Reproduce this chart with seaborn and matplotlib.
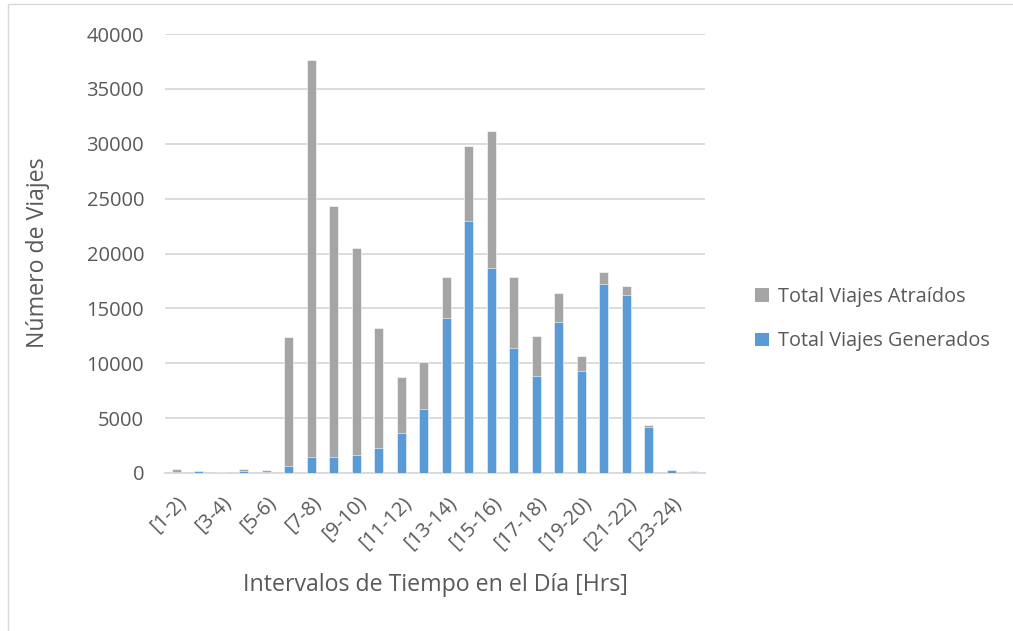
import matplotlib
matplotlib.use("Agg")
import matplotlib.pyplot as plt
import seaborn as sns
import pandas as pd
from matplotlib.patches import Rectangle, Patch

# Hourly intervals of the day
intervalos = ["[1-2)", "[2-3)", "[3-4)", "[4-5)", "[5-6)", "[6-7)", "[7-8)", "[8-9)",
              "[9-10)", "[10-11)", "[11-12)", "[12-13)", "[13-14)", "[14-15)", "[15-16)",
              "[16-17)", "[17-18)", "[18-19)", "[19-20)", "[20-21)", "[21-22)", "[22-23)",
              "[23-24)", "[24-1)"]

viajes_generados = [100, 150, 30, 150, 50, 600, 1500, 1500, 1650, 2300, 3600, 5800,
                    14150, 22950, 18700, 11350, 8800, 13750, 9300, 17200, 16250, 4150,
                    250, 120]
viajes_atraidos = [250, 30, 20, 220, 230, 11800, 36100, 22800, 18850, 10900, 5150, 4350,
                   3750, 6850, 12450, 6550, 3650, 2650, 1350, 1100, 800, 250,
                   50, 20]

y_ticks = [0, 5000, 10000, 15000, 20000, 25000, 30000, 35000, 40000]

AZUL = "#5B9BD5"
GRIS = "#A5A5A5"
TEXTO = "#595959"
REJILLA = "#D9D9D9"

df = pd.DataFrame({
    "intervalo": intervalos,
    "generados": viajes_generados,
    "total": [g + a for g, a in zip(viajes_generados, viajes_atraidos)],
})

sns.set_theme(style="white")
plt.rcParams["font.family"] = ["Open Sans", "DejaVu Sans"]

fig = plt.figure(figsize=(10.13, 6.31), dpi=100)
ax = fig.add_axes([165 / 1013, 1 - 473 / 631, 540 / 1013, (473 - 34) / 631])

# Stacked bars: the grey total behind, the blue generated share in front
sns.barplot(data=df, x="intervalo", y="total", color=GRIS, width=0.4,
            saturation=1, edgecolor="white", linewidth=0.4, ax=ax, zorder=3)
sns.barplot(data=df, x="intervalo", y="generados", color=AZUL, width=0.4,
            saturation=1, edgecolor="white", linewidth=0.4, ax=ax, zorder=4)

ax.set_ylim(0, 40000)
ax.set_xlim(-0.5, len(intervalos) - 0.5)
ax.set_yticks(y_ticks)
ax.set_yticklabels([str(v) for v in y_ticks], fontsize=14.5, color=TEXTO)
ax.yaxis.grid(True, color=REJILLA, linewidth=1.3, zorder=0)
ax.set_axisbelow(True)

ax.set_xticks(range(0, len(intervalos), 2))
ax.set_xticklabels(intervalos[::2], rotation=45, ha="right", rotation_mode="anchor",
                   fontsize=14.5, color=TEXTO)
ax.tick_params(axis="both", length=0)
ax.tick_params(axis="x", pad=14)
ax.tick_params(axis="y", pad=15)

for side in ["top", "right", "left"]:
    ax.spines[side].set_visible(False)
ax.spines["bottom"].set_color(REJILLA)
ax.spines["bottom"].set_linewidth(1.3)

ax.set_xlabel("")
ax.set_ylabel("")
fig.text(435 / 1013, 1 - 585 / 631, "Intervalos de Tiempo en el Día [Hrs]",
         ha="center", va="center", fontsize=16.7, color=TEXTO)
fig.text(38 / 1013, 1 - 253 / 631, "Número de Viajes", rotation=90,
         ha="center", va="center", fontsize=16.7, color=TEXTO)

handles = [Patch(facecolor=GRIS, edgecolor="none", label="Total Viajes Atraídos"),
           Patch(facecolor=AZUL, edgecolor="none", label="Total Viajes Generados")]
fig.legend(handles=handles, loc="center left", bbox_to_anchor=(737 / 1013, 1 - 319 / 631),
           frameon=False, fontsize=14.3, labelcolor=TEXTO, handlelength=0.7,
           handleheight=0.7, handletextpad=0.45, labelspacing=1.25)

# Chart frame
fig.patches.append(Rectangle((8 / 1013, -0.05), 1.1, 1 - 4.5 / 631 + 0.05,
                             transform=fig.transFigure, fill=False,
                             edgecolor=REJILLA, linewidth=1))

fig.savefig("out.png", dpi=100)
